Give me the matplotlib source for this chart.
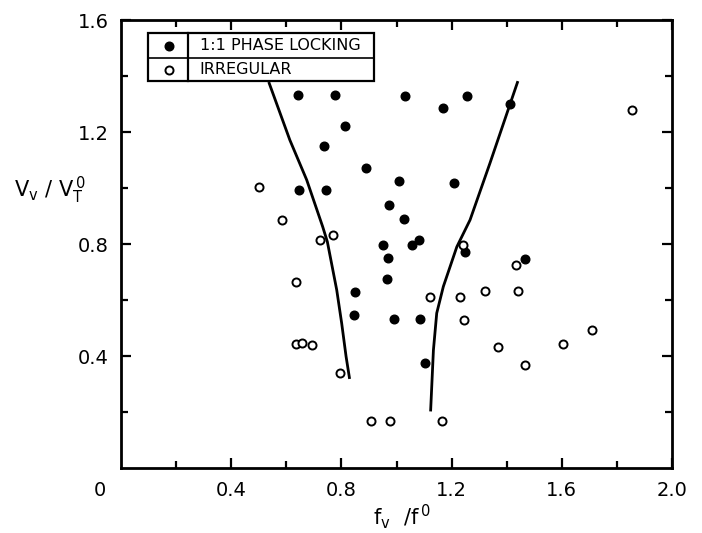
import matplotlib
matplotlib.use("Agg")
import matplotlib.pyplot as plt
from matplotlib.patches import Rectangle
from matplotlib.lines import Line2D

# 1:1 phase locking (filled)
lock_f = [0.644, 0.777, 1.031, 0.813, 0.737, 0.889, 1.010, 0.645, 0.743, 0.972,
          1.028, 0.952, 1.056, 1.082, 0.968, 1.255, 1.168, 1.412, 1.210, 1.249,
          1.467, 0.966, 0.851, 0.847, 0.992, 1.085, 1.104]
lock_v = [1.332, 1.332, 1.330, 1.221, 1.149, 1.073, 1.024, 0.993, 0.992, 0.938,
          0.889, 0.798, 0.798, 0.815, 0.751, 1.330, 1.286, 1.299, 1.019, 0.773,
          0.748, 0.675, 0.627, 0.548, 0.532, 0.532, 0.374]

# irregular (open)
irr_f = [1.853, 1.243, 0.636, 0.635, 0.657, 0.694, 0.795, 0.907, 0.978, 1.120,
         0.502, 0.583, 0.722, 0.770, 1.434, 1.232, 1.321, 1.441, 1.245, 1.367,
         1.603, 1.711, 1.467, 1.165]
irr_v = [1.277, 0.796, 0.666, 0.442, 0.448, 0.438, 0.338, 0.169, 0.168, 0.612,
         1.005, 0.887, 0.815, 0.832, 0.726, 0.610, 0.631, 0.631, 0.529, 0.432,
         0.443, 0.493, 0.369, 0.167]

# boundary curves
left_f = [0.538, 0.613, 0.674, 0.732, 0.749, 0.783, 0.801, 0.817, 0.829]
left_v = [1.374, 1.171, 1.029, 0.862, 0.808, 0.636, 0.517, 0.398, 0.323]
right_f = [1.439, 1.412, 1.339, 1.267, 1.219, 1.170, 1.146, 1.134, 1.124]
right_v = [1.377, 1.299, 1.088, 0.886, 0.790, 0.648, 0.553, 0.421, 0.207]

fig = plt.figure(figsize=(7.02, 5.33), dpi=100)
ax = fig.add_axes([121/702, 65/533, 551/702, 448/533])

ax.plot(left_f, left_v, color='black', lw=2.0)
ax.plot(right_f, right_v, color='black', lw=2.0)
ax.plot(lock_f, lock_v, 'o', color='black', ms=6.2, mec='black')
ax.plot(irr_f, irr_v, 'o', mfc='white', mec='black', ms=5.8, mew=1.4)

ax.set_xlim(0, 2.0)
ax.set_ylim(0, 1.6)
ax.set_xticks([0.4, 0.8, 1.2, 1.6, 2.0])
ax.set_xticklabels(['0.4', '0.8', '1.2', '1.6', '2.0'])
ax.set_xticks([0.2, 0.6, 1.0, 1.4, 1.8], minor=True)
ax.set_yticks([0.4, 0.8, 1.2, 1.6])
ax.set_yticklabels(['0.4', '0.8', '1.2', '1.6'])
ax.set_yticks([0.2, 0.6, 1.0, 1.4], minor=True)
ax.tick_params(which='both', direction='in', top=True, right=True, width=1.6,
               labelsize=14)
ax.tick_params(which='major', length=7, pad=9)
ax.tick_params(which='minor', length=5)
for s in ax.spines.values():
    s.set_linewidth(2.0)

ax.text(-0.038, -0.05, '0', transform=ax.transAxes, ha='center', va='center',
        fontsize=14)

fig.text(50/702, 1 - 190/533, r'$\mathregular{V_v\ /\ V_T^{\,0}}$',
         ha='center', va='center', fontsize=15)
fig.text(402/702, 1 - 517/533, r'$\mathregular{f_v\ \ /f^{\,0}}$',
         ha='center', va='center', fontsize=15)

# legend table
x0, x1, xm = 0.049, 0.459, 0.1216
y0, y1, ym = 0.864, 0.971, 0.915
ax.add_patch(Rectangle((x0, y0), x1 - x0, y1 - y0, transform=ax.transAxes,
                       fill=True, fc='white', ec='black', lw=1.6, zorder=5))
ax.add_line(Line2D([x0, x1], [ym, ym], transform=ax.transAxes, color='black',
                   lw=1.2, zorder=6))
ax.add_line(Line2D([xm, xm], [y0, y1], transform=ax.transAxes, color='black',
                   lw=1.6, zorder=6))
ax.plot([0.087], [0.942], 'o', color='black', ms=6.2, transform=ax.transAxes,
        zorder=7, clip_on=False)
ax.plot([0.087], [0.889], 'o', mfc='white', mec='black', ms=5.8, mew=1.4,
        transform=ax.transAxes, zorder=7, clip_on=False)
ax.text(0.143, 0.942, '1:1 PHASE LOCKING', transform=ax.transAxes, va='center',
        fontsize=11.5, zorder=7)
ax.text(0.143, 0.889, 'IRREGULAR', transform=ax.transAxes, va='center',
        fontsize=11.5, zorder=7)

fig.savefig('out.png', dpi=100)
